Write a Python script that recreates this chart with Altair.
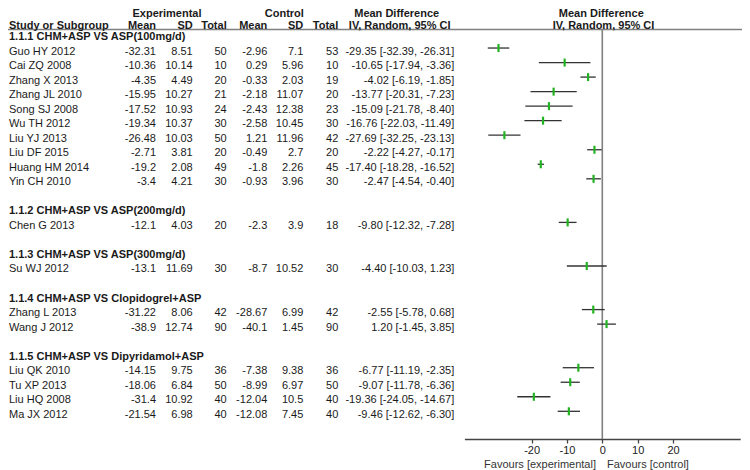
import altair as alt
import pandas as pd

group_titles = [
    "1.1.1 CHM+ASP VS ASP(100mg/d)",
    "1.1.2 CHM+ASP VS ASP(200mg/d)",
    "1.1.3 CHM+ASP VS ASP(300mg/d)",
    "1.1.4 CHM+ASP VS Clopidogrel+ASP",
    "1.1.5 CHM+ASP VS Dipyridamol+ASP",
]
study_group = [0, 0, 0, 0, 0, 0, 0, 0, 0, 0, 1, 2, 3, 3, 4, 4, 4, 4]
study_names = [
    "Guo HY 2012", "Cai ZQ 2008", "Zhang X 2013", "Zhang JL 2010", "Song SJ 2008",
    "Wu TH 2012", "Liu YJ 2013", "Liu DF 2015", "Huang HM 2014", "Yin CH 2010",
    "Chen G 2013", "Su WJ 2012", "Zhang L 2013", "Wang J 2012",
    "Liu QK 2010", "Tu XP 2013", "Liu HQ 2008", "Ma JX 2012",
]
exp_mean = [-32.31, -10.36, -4.35, -15.95, -17.52, -19.34, -26.48, -2.71, -19.2, -3.4,
            -12.1, -13.1, -31.22, -38.9, -14.15, -18.06, -31.4, -21.54]
exp_sd = [8.51, 10.14, 4.49, 10.27, 10.93, 10.37, 10.03, 3.81, 2.08, 4.21,
          4.03, 11.69, 8.06, 12.74, 9.75, 6.84, 10.92, 6.98]
exp_n = [50, 10, 20, 21, 24, 30, 50, 20, 49, 30, 20, 30, 42, 90, 36, 50, 40, 40]
ctl_mean = [-2.96, 0.29, -0.33, -2.18, -2.43, -2.58, 1.21, -0.49, -1.8, -0.93,
            -2.3, -8.7, -28.67, -40.1, -7.38, -8.99, -12.04, -12.08]
ctl_sd = [7.1, 5.96, 2.03, 11.07, 12.38, 10.45, 11.96, 2.7, 2.26, 3.96,
          3.9, 10.52, 6.99, 1.45, 9.38, 6.97, 10.5, 7.45]
ctl_n = [53, 10, 19, 20, 23, 30, 42, 20, 45, 30, 18, 30, 42, 90, 36, 50, 40, 40]
md = [-29.35, -10.65, -4.02, -13.77, -15.09, -16.76, -27.69, -2.22, -17.40, -2.47,
      -9.80, -4.40, -2.55, 1.20, -6.77, -9.07, -19.36, -9.46]
ci_lo = [-32.39, -17.94, -6.19, -20.31, -21.78, -22.03, -32.25, -4.27, -18.28, -4.54,
         -12.32, -10.03, -5.78, -1.45, -11.19, -11.78, -24.05, -12.62]
ci_hi = [-26.31, -3.36, -1.85, -7.23, -8.40, -11.49, -23.13, -0.17, -16.52, -0.40,
         -7.28, 1.23, 0.68, 3.85, -2.35, -6.36, -14.67, -6.30]
axis_ticks = [-20, -10, 0, 10, 20]

# ---- build row layout ----
study_rows = [0] * len(study_names)
head_recs = []
r = 0
for g, title in enumerate(group_titles):
    if g > 0:
        r += 1
    head_recs.append({"row": r, "label": title})
    r += 1
    for i, sg in enumerate(study_group):
        if sg == g:
            study_rows[i] = r
            r += 1
last_row = r - 1

df = pd.DataFrame({
    "row": study_rows,
    "name": study_names,
    "em": [str(v) for v in exp_mean],
    "esd": [str(v) for v in exp_sd],
    "en": [str(v) for v in exp_n],
    "cm": [str(v) for v in ctl_mean],
    "csd": [str(v) for v in ctl_sd],
    "cn": [str(v) for v in ctl_n],
    "ci": [f"{m:.2f} [{a:.2f}, {b:.2f}]" for m, a, b in zip(md, ci_lo, ci_hi)],
    "md": md,
    "lo": ci_lo,
    "hi": ci_hi,
})
heads = pd.DataFrame(head_recs)
one = pd.DataFrame({"k": [0]})

FONT = "Liberation Sans"
TXT = "#1a1a1a"
GREEN = "#22b322"
W, H = 734, 431

yscale = alt.Scale(domain=[0, last_row], range=[29.0, 406.8], nice=False, zero=False)
xscale = alt.Scale(domain=[-39, 39], range=[456.4, 732.2], nice=False, zero=False)
xaxis = alt.Axis(values=axis_ticks, title=None, grid=False, domainColor="#444",
                 domainWidth=1.5, tickColor="#444", tickWidth=1.3, tickSize=4,
                 labelPadding=1, labelFont=FONT, labelFontSize=11, labelColor=TXT,
                 labelFlush=False, labelExpr="'' + datum.value")
Y = alt.Y("row:Q", scale=yscale, axis=None)


def col(data, field, x, align, bold=False):
    return alt.Chart(data).mark_text(
        align=align, baseline="middle", font=FONT, fontSize=11, color=TXT,
        fontWeight="bold" if bold else "normal"
    ).encode(x=alt.value(x), y=Y, text=f"{field}:N")


def label(text, x, y, align, bold=True, color=TXT):
    return alt.Chart(one).mark_text(
        text=text, align=align, baseline="middle", font=FONT, fontSize=11,
        color=color, fontWeight="bold" if bold else "normal"
    ).encode(x=alt.value(x), y=alt.value(y))


layers = []
LINE_Y = 21.6
# header rule and zero line
layers.append(alt.Chart(one).mark_rule(color="#808080", strokeWidth=1.5).encode(
    x=alt.value(0), x2=alt.value(W), y=alt.value(LINE_Y)))
layers.append(alt.Chart(one).mark_rule(color="#808080", strokeWidth=1.6).encode(
    x=alt.X(datum=0, scale=xscale, axis=xaxis), y=alt.value(LINE_Y), y2=alt.value(H)))
# CIs and markers
layers.append(alt.Chart(df).mark_rule(color="#333333", strokeWidth=1.3, yOffset=-3.5,
                                      y2Offset=-3.5).encode(
    x=alt.X("lo:Q", scale=xscale, axis=xaxis), x2="hi:Q", y=Y))
layers.append(alt.Chart(df).mark_tick(orient="vertical", size=8, thickness=2.2,
                                      color=GREEN, opacity=1, yOffset=-3.5).encode(
    x=alt.X("md:Q", scale=xscale, axis=xaxis), y=Y))
# table columns
layers += [
    col(heads, "label", 1, "left", bold=True),
    col(df, "name", 1, "left"),
    col(df, "em", 148, "right"),
    col(df, "esd", 184.7, "right"),
    col(df, "en", 218.7, "right"),
    col(df, "cm", 259.3, "right"),
    col(df, "csd", 295.3, "right"),
    col(df, "cn", 330.3, "right"),
    col(df, "ci", 446.3, "right"),
]
# headers
TOP, SUB = 6.3, 18.0
layers += [
    label("Experimental", 159, TOP, "center"),
    label("Control", 276.3, TOP, "center"),
    label("Mean Difference", 388.7, TOP, "center"),
    label("Mean Difference", 593.3, TOP, "center"),
    label("Study or Subgroup", 1, SUB, "left"),
    label("Mean", 148, SUB, "right"),
    label("SD", 184.7, SUB, "right"),
    label("Total", 218.7, SUB, "right"),
    label("Mean", 259.3, SUB, "right"),
    label("SD", 295.3, SUB, "right"),
    label("Total", 330.3, SUB, "right"),
    label("IV, Random, 95% CI", 391.7, SUB, "center"),
    label("IV, Random, 95% CI", 595.5, SUB, "center"),
    label("Favours [experimental]", 588, 456.5, "right", bold=False, color="#333333"),
    label("Favours [control]", 599, 456.5, "left", bold=False, color="#333333"),
]

chart = alt.layer(*layers).properties(
    width=W, height=H, autosize="none",
    padding={"left": 0, "right": 0, "top": 0, "bottom": 31},
    background="white",
).configure_view(stroke=None)

chart.save("out.html", embed_options={"renderer": "svg", "actions": False})
